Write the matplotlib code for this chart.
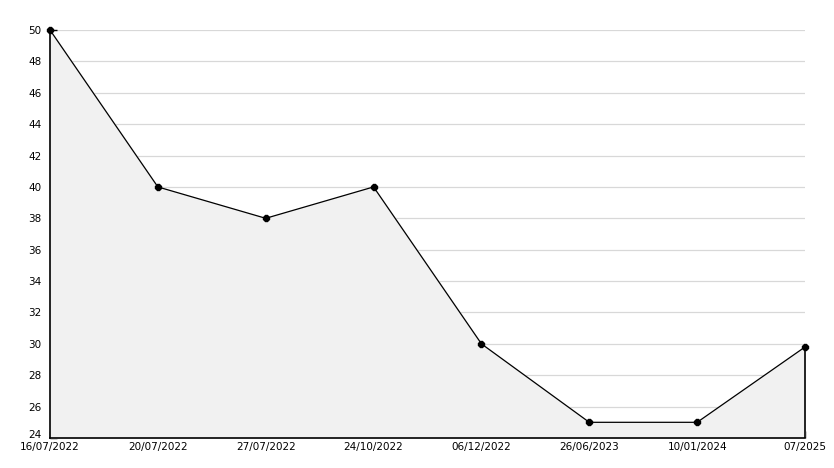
import matplotlib
matplotlib.use("Agg")
import matplotlib.pyplot as plt
from matplotlib.ticker import MultipleLocator
import matplotlib.transforms as mtransforms

dates = ["16/07/2022", "20/07/2022", "27/07/2022", "24/10/2022",
         "06/12/2022", "26/06/2023", "10/01/2024", "07/2025"]
values = [50, 40, 38, 40, 30, 25, 25, 29.8]

fig = plt.figure(figsize=(8.34, 4.68), dpi=100)
ax = fig.add_axes([50/834, 30/468, 755/834, 408/468])
x = list(range(len(dates)))
ax.fill_between(x, values, 24, color="#f1f1f1", zorder=1)
ax.plot(x, values, color="black", lw=0.9, zorder=3, clip_on=False)
ax.plot(x, values, ls="none", marker="8", ms=5, color="black", zorder=4, clip_on=False)
ax.vlines(x[-1], 24, values[-1], color="black", lw=1.2, zorder=3, clip_on=False)

ax.set_xlim(0, len(dates) - 1)
ax.set_ylim(24, 50)
ax.set_xticks(x)
ax.set_xticklabels(dates)
ax.yaxis.set_major_locator(MultipleLocator(2))
ax.yaxis.set_minor_locator(MultipleLocator(1))
ax.grid(axis="y", which="major", color="#d8d8d8", lw=0.9, zorder=0)
for s in ["top", "right"]:
    ax.spines[s].set_visible(False)
for s in ["left", "bottom"]:
    ax.spines[s].set_linewidth(1.2)
ax.tick_params(axis="both", direction="in", labelsize=7.5, length=5, width=1)
ax.tick_params(axis="y", which="minor", direction="in", length=4, width=1)
ax.tick_params(axis="x", pad=3)
ax.tick_params(axis="y", pad=6)
ax.set_axisbelow(True)

fig.canvas.draw()
for lbl in ax.get_yticklabels():
    if lbl.get_text() == "24":
        lbl.set_transform(lbl.get_transform() + mtransforms.ScaledTranslation(0, 4/100, fig.dpi_scale_trans))
fig.savefig("out.png", dpi=100)
